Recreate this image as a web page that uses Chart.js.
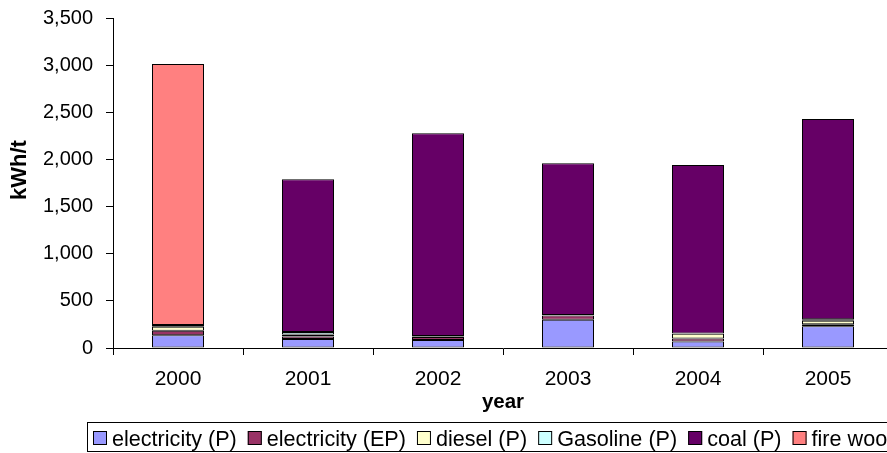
<!DOCTYPE html>
<html>
<head>
<meta charset="utf-8">
<title>Energy use per tonne, 2000-2005</title>
<script src="https://cdn.jsdelivr.net/npm/chart.js"></script>
<style>
  html, body { margin: 0; padding: 0; background: #fff; overflow: hidden; }
  .chart-container { width: 900px; height: 453px; }
</style>
</head>
<body>
<div class="chart-container">
  <canvas id="energyChart"></canvas>
</div>
<script>
// Energy intensity by carrier (kWh per tonne)
const years = ['2000', '2001', '2002', '2003', '2004', '2005'];
const electricityP  = [134,  95,   85,  300,   70,  230];
const electricityEP = [ 49,  28,   32,   46,   30,   21];
const diesel        = [ 42,  21,    5,    2,   50,   39];
const gasoline      = [ 18,  25,    5,    2,    5,   14];
const coal          = [  0, 1621, 2150, 1610, 1785, 2126];
const fireWood      = [2769,   0,    0,    0,    0,    0];

const seriesLabels = ['electricity (P)', 'electricity (EP)', 'diesel (P)', 'Gasoline (P)', 'coal (P)', 'fire woo'];
const seriesColors = ['#9999FF', '#993366', '#FFFFCC', '#CCFFFF', '#660066', '#FF8080'];
const yTicks = [0, 500, 1000, 1500, 2000, 2500, 3000, 3500];

const FONT = "'Liberation Sans', Arial, sans-serif";

const datasets = [electricityP, electricityEP, diesel, gasoline, coal, fireWood].map((values, i) => ({
  label: seriesLabels[i],
  data: values,
  backgroundColor: seriesColors[i],
  borderColor: '#000',
  borderWidth: 1,
  borderSkipped: false
}));

// axis titles and the boxed legend row under the chart
const extras = {
  id: 'extras',
  afterDraw(chart) {
    const ctx = chart.ctx;
    const area = chart.chartArea;
    ctx.save();
    ctx.fillStyle = '#000';

    ctx.font = 'bold 22px ' + FONT;
    ctx.textAlign = 'center';
    ctx.textBaseline = 'middle';
    ctx.save();
    ctx.translate(area.left - 93, 170);
    ctx.rotate(-Math.PI / 2);
    ctx.fillText('kWh/t', 0, 0);
    ctx.restore();

    ctx.font = 'bold 20.5px ' + FONT;
    ctx.textBaseline = 'alphabetic';
    ctx.fillText('year', (area.left + area.right) / 2, 408);

    ctx.strokeStyle = '#000';
    ctx.lineWidth = 1;
    ctx.strokeRect(87.5, 422.5, chart.width, 29);

    ctx.font = '21.6px ' + FONT;
    ctx.textAlign = 'left';
    let x = 93;
    chart.data.datasets.forEach(ds => {
      ctx.fillStyle = ds.backgroundColor;
      ctx.fillRect(x, 431, 14, 14);
      ctx.strokeRect(x + 0.5, 431.5, 13, 13);
      ctx.fillStyle = '#000';
      ctx.fillText(ds.label, x + 19, 446);
      x += 19 + ctx.measureText(ds.label).width + 11;
    });
    ctx.restore();
  }
};

new Chart(document.getElementById('energyChart'), {
  type: 'bar',
  data: { labels: years, datasets },
  options: {
    responsive: true,
    maintainAspectRatio: false,
    animation: false,
    layout: { padding: { top: 18, right: 7, left: 0, bottom: 0 } },
    datasets: { bar: { categoryPercentage: 1, barPercentage: 0.4 } },
    plugins: { legend: { display: false }, tooltip: { enabled: false } },
    scales: {
      x: {
        stacked: true,
        afterFit(scale) { scale.height = 105; },
        border: { color: '#000', width: 1 },
        grid: { drawOnChartArea: false, drawTicks: true, tickLength: 7, color: '#000' },
        ticks: { color: '#000', font: { family: FONT, size: 21 }, padding: 12 }
      },
      y: {
        stacked: true,
        min: 0,
        max: 3500,
        afterFit(scale) {
          scale.width = 113;
          scale.paddingTop = 0;
          scale.paddingBottom = 0;
        },
        afterBuildTicks(scale) { scale.ticks = yTicks.map(v => ({ value: v })); },
        border: { color: '#000', width: 1 },
        grid: { drawOnChartArea: false, drawTicks: true, tickLength: 7, color: '#000' },
        ticks: {
          color: '#000',
          font: { family: FONT, size: 20 },
          padding: 13,
          callback: v => v.toLocaleString('en-US')
        }
      }
    }
  },
  plugins: [extras]
});
</script>
</body>
</html>
